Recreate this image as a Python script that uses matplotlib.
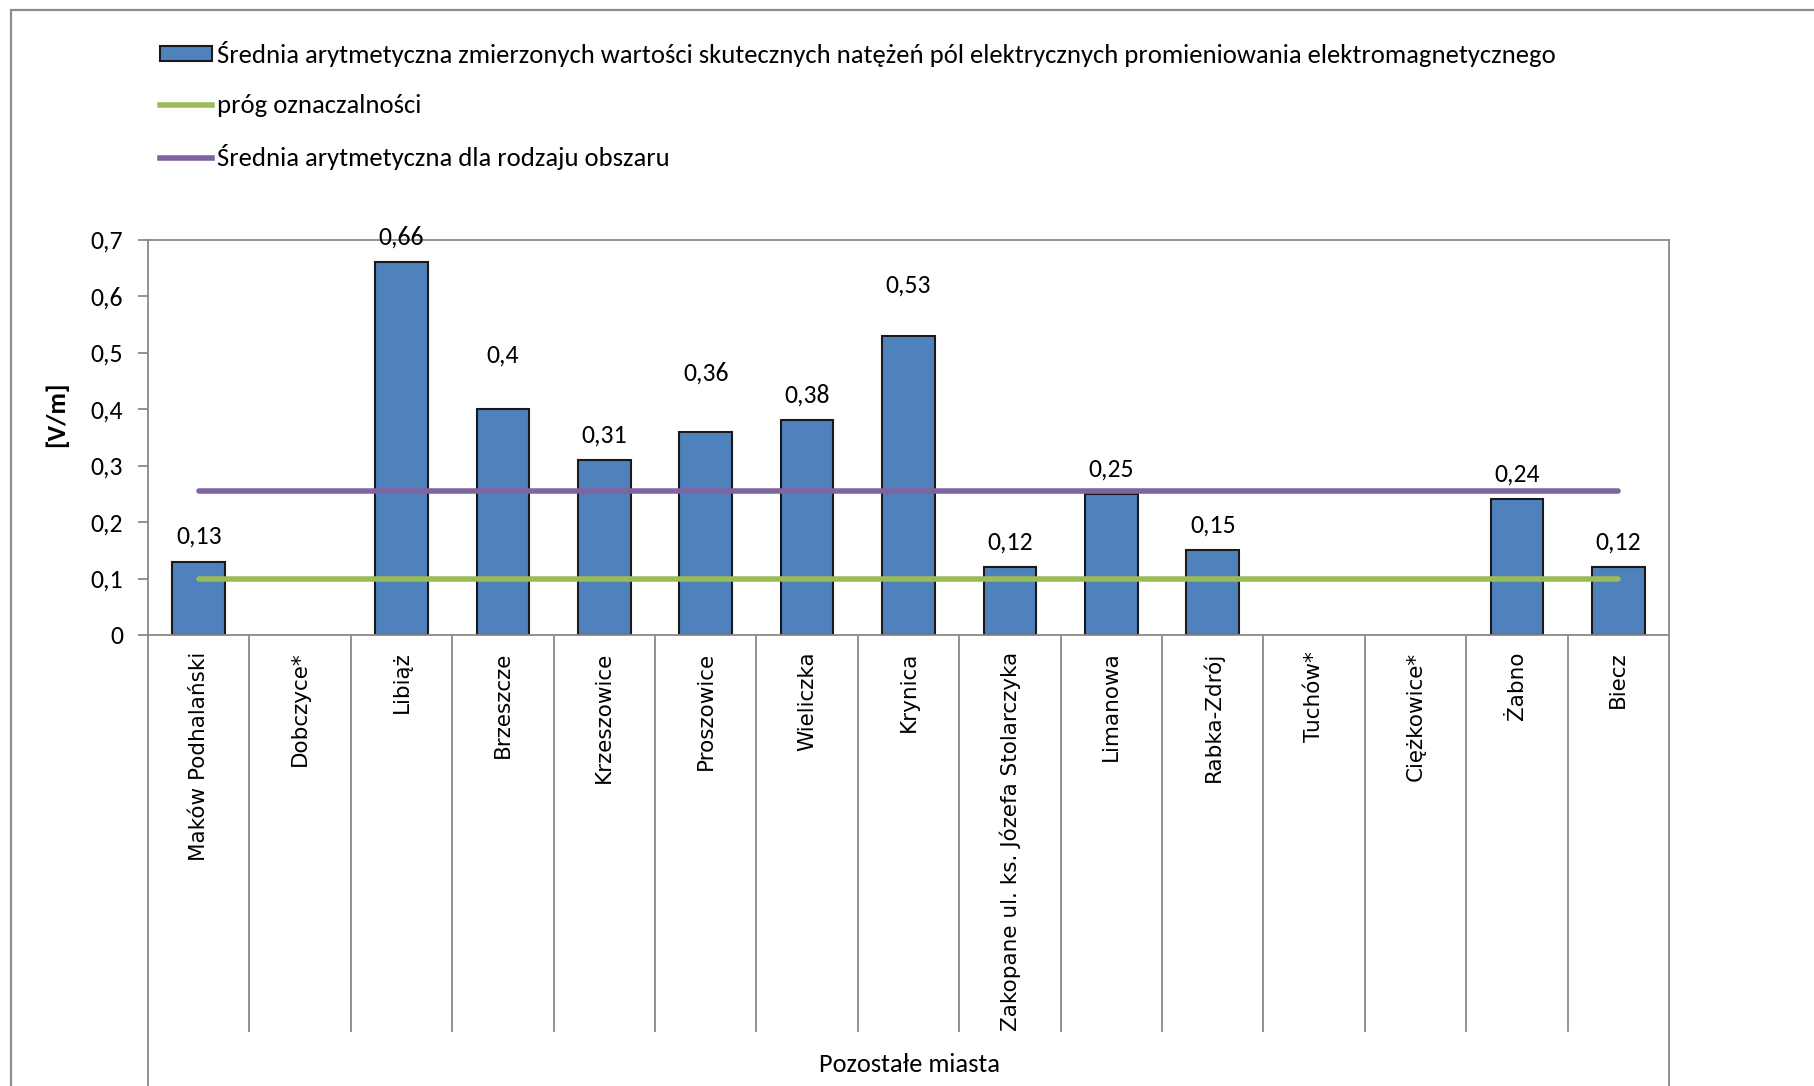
import matplotlib.pyplot as plt
from matplotlib import font_manager
from matplotlib.lines import Line2D
from matplotlib.patches import Patch, Rectangle

# dane
miasta = ['Maków Podhalański', 'Dobczyce*', 'Libiąż', 'Brzeszcze', 'Krzeszowice',
          'Proszowice', 'Wieliczka', 'Krynica', 'Zakopane ul. ks. Józefa Stolarczyka',
          'Limanowa', 'Rabka-Zdrój', 'Tuchów*', 'Ciężkowice*', 'Żabno', 'Biecz']
wartosci = [0.13, None, 0.66, 0.40, 0.31, 0.36, 0.38, 0.53, 0.12, 0.25, 0.15, None, None, 0.24, 0.12]
etykiety = ['0,13', '', '0,66', '0,4', '0,31', '0,36', '0,38', '0,53', '0,12', '0,25', '0,15', '', '', '0,24', '0,12']
prog = 0.1
srednia_obszaru = 0.255
y_ticks = [0, 0.1, 0.2, 0.3, 0.4, 0.5, 0.6, 0.7]
y_tick_labels = ['0', '0,1', '0,2', '0,3', '0,4', '0,5', '0,6', '0,7']
grupa = 'Pozostałe miasta'
legenda = ['Średnia arytmetyczna zmierzonych wartości skutecznych natężeń pól elektrycznych promieniowania elektromagnetycznego',
           'próg oznaczalności',
           'Średnia arytmetyczna dla rodzaju obszaru']

# przesuniecie etykiet nad slupkami (punkty)
przesuniecia = [18, 0, 18, 39, 18, 42, 18, 36, 18, 18, 18, 0, 0, 18, 18]

dostepne = {f.name for f in font_manager.fontManager.ttflist}
font_txt = 'Carlito' if 'Carlito' in dostepne else 'Lato'

W, H = 1814, 1086
fig = plt.figure(figsize=(W / 100, H / 100), dpi=100)
ax = fig.add_axes([148 / W, 1 - 635 / H, (1669 - 148) / W, (635 - 239.5) / H])

szary = '#898989'
x = list(range(len(miasta)))
xb = [i for i, v in zip(x, wartosci) if v is not None]
hb = [v for v in wartosci if v is not None]
ax.bar(xb, hb, width=0.52, color='#4F81BD', edgecolor='#1a1a1a', linewidth=1.5, zorder=2)

ax.plot([0, len(miasta) - 1], [prog, prog], color='#9BBB59', lw=4, solid_capstyle='round', zorder=3)
ax.plot([0, len(miasta) - 1], [srednia_obszaru] * 2, color='#8064A2', lw=4, solid_capstyle='round', zorder=3)

for i, (v, t) in enumerate(zip(wartosci, etykiety)):
    if v is None:
        continue
    ax.annotate(t, (i, v), xytext=(0, przesuniecia[i]), textcoords='offset points',
                ha='center', va='center', fontsize=18.5, family=font_txt)

ax.set_xlim(-0.5, len(miasta) - 0.5)
ax.set_ylim(0, 0.7)
ax.set_yticks(y_ticks)
ax.set_yticklabels(y_tick_labels, family=font_txt, fontsize=18.5)
ax.tick_params(axis='y', direction='out', length=7, width=1.3, color=szary, pad=11)
ax.set_xticks(x)
ax.set_xticklabels(miasta, rotation=90, fontsize=15.5, family='DejaVu Sans', va='top')
ax.tick_params(axis='x', length=0, pad=12)
for s in ax.spines.values():
    s.set_color(szary)
    s.set_linewidth(1.3)

# linie podzialu kategorii pod osia
tr = ax.get_xaxis_transform()
for i in range(len(miasta) + 1):
    xx = i - 0.5
    dol = -1.0 if 0 < i < len(miasta) else -1.2
    ax.plot([xx, xx], [0, dol], color=szary, lw=1.3, transform=tr, clip_on=False)

fig.text(909 / W, 1 - 1064 / H, grupa, ha='center', va='center', fontsize=19, family=font_txt)
fig.text(56 / W, 1 - 414 / H, '[V/m]', rotation=90, ha='center', va='center',
         fontsize=19, fontweight='bold', family=font_txt)

# ramka wykresu
fig.patches.append(Rectangle((11 / W, -0.1), 1.2, 1.1 - 10 / H, transform=fig.transFigure,
                             fill=False, edgecolor='#8c8c8c', lw=1.6))

uchwyty = [Patch(facecolor='#4F81BD', edgecolor='#1a1a1a', linewidth=1.5),
           Line2D([], [], color='#9BBB59', lw=4),
           Line2D([], [], color='#8064A2', lw=4)]
fig.legend(uchwyty, legenda, loc='upper left', bbox_to_anchor=(160 / W, 1 - 41 / H),
           frameon=False, prop={'family': font_txt, 'size': 19.2}, handlelength=1.95,
           handleheight=0.5, handletextpad=0.2, labelspacing=1.02, borderpad=0, borderaxespad=0)

fig.savefig('out.png', dpi=100)
